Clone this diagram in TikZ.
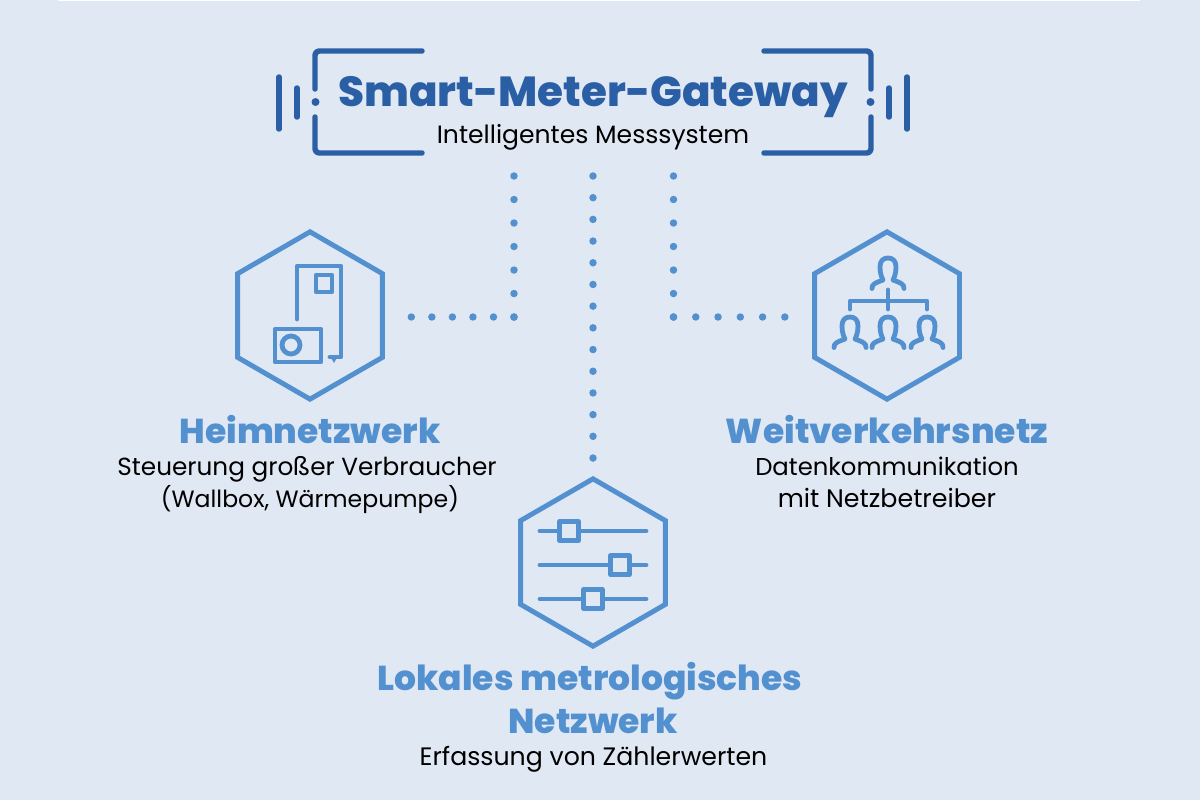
\documentclass[tikz,border=0pt]{standalone}
\usepackage{fontspec}
\setmainfont{Poppins}
\newfontfamily\heavyfont{Poppins ExtraBold}
\usetikzlibrary{shapes.geometric}
\definecolor{bgc}{HTML}{E0E8F3}
\definecolor{darkb}{HTML}{2B5FA5}
\definecolor{lightb}{HTML}{5390D0}
\tikzset{
  x=0.75pt,y=-0.75pt,
  frameline/.style={draw=darkb,line width=4.1pt,line cap=round,line join=round,rounded corners=3pt},
  iconline/.style={draw=lightb,line width=3.6pt,line cap=round,line join=round},
  hexnode/.style={draw=lightb,line width=3.7pt,regular polygon,regular polygon sides=6,shape border rotate=30,minimum size=125.5pt,inner sep=0pt,line join=miter},
  dotted line/.style={draw=lightb,line width=5.6pt,line cap=round},
  titletext/.style={text=darkb,anchor=base,inner sep=0pt,font=\fontsize{31.5}{36}\heavyfont},
  headtext/.style={text=lightb,anchor=base,inner sep=0pt,font=\fontsize{25.9}{28}\heavyfont},
  bodytext/.style={text=black,anchor=base,inner sep=0pt,font=\fontsize{#1}{21}\selectfont},
  bodytext/.default=18.8,
  person/.pic={\draw[iconline] (-16,20.5) .. controls (-16,16) and (-13,15) .. (-5,12) .. controls (-6,10) and (-8,6) .. (-8,-1) .. controls (-8,-7) and (-5,-10) .. (0,-10) .. controls (5,-10) and (8,-7) .. (8,-1) .. controls (8,6) and (6,10) .. (5,12) .. controls (13,15) and (16,16) .. (16,20.5);}
}
\begin{document}
\begin{tikzpicture}
\useasboundingbox (0,0) rectangle (1200,800);
\fill[bgc] (0,0) rectangle (1200,800);
\fill[white] (58,0) rectangle (1140,1);
% nodes
\node[titletext] (title) at (593,106) {Smart-Meter-Gateway};
\node[bodytext] (sub) at (593,143) {Intelligentes Messsystem};
\node[hexnode] (hexl) at (310,315.5) {};
\node[hexnode] (hexr) at (887,315.5) {};
\node[hexnode] (hexm) at (593,562.5) {};
\node[headtext] (hl) at (310,443) {Heimnetzwerk};
\node[bodytext=18.55] (hl1) at (307,475) {Steuerung großer Verbraucher};
\node[bodytext=17.7] (hl2) at (310,507) {(Wallbox, Wärmepumpe)};
\node[headtext] (hr) at (887,443) {Weitverkehrsnetz};
\node[bodytext=18.25] (hr1) at (887,475) {Datenkommunikation};
\node[bodytext=19] (hr2) at (887,507) {mit Netzbetreiber};
\node[headtext] (hm1) at (590,690) {Lokales metrologisches};
\node[headtext] (hm2) at (593,733) {Netzwerk};
\node[bodytext=18.9] (hm3) at (593.5,765) {Erfassung von Zählerwerten};
% frame
\draw[frameline] (422,51) -- (315,51) -- (315,89);
\draw[frameline] (315,117) -- (315,153) -- (422,153);
\draw[frameline] (764,51) -- (871,51) -- (871,89);
\draw[frameline] (871,117) -- (871,153) -- (764,153);
\fill[darkb] (315.5,102) circle (3pt) (870.5,102) circle (3pt);
\draw[frameline] (279,77) -- (279,129) (297,88) -- (297,117);
\draw[frameline] (907,77) -- (907,129) (889,88) -- (889,117);
% connectors
\coordinate (gl) at (514,176);
\coordinate (gm) at (593,176);
\coordinate (gr) at (673.5,176);
\coordinate (cl) at (514,318);
\coordinate (cr) at (673.5,318);
\coordinate (cl2) at (514,317);
\coordinate (cr2) at (673.5,317);
\coordinate (el) at (410,317);
\coordinate (er) at (787,317);
\coordinate (em) at (593,460);
\draw[dotted line,dash pattern=on 0pt off 17.63pt] (gl) -- (cl);
\draw[dotted line,dash pattern=on 0pt off 15.4pt] (cl2) -- (el);
\draw[dotted line,dash pattern=on 0pt off 17.63pt] (gr) -- (cr);
\draw[dotted line,dash pattern=on 0pt off 16.7pt] (cr2) -- (er);
\draw[dotted line,dash pattern=on 0pt off 16.27pt] (gm) -- (em);
% heim icon
\draw[iconline] (297,319) -- (297,266) -- (341,266) -- (341,357) -- (330,357);
\fill[lightb] (330,356) -- (338,356) -- (334,363) -- cycle;
\draw[iconline] (316,275) rectangle (332,292);
\draw[iconline] (275,329) rectangle (321,362);
\draw[iconline] (291,345) circle (9);
% net icon
\path (888,268) pic {person};
\path (850,327) pic {person};
\path (888,327) pic {person};
\path (927,327) pic {person};
\draw[iconline] (888,290) -- (888,309);
\draw[iconline] (850,309) -- (850,301) -- (927,301) -- (927,309);
% slider icon
\draw[iconline] (540,531) -- (646,531) (540,565) -- (646,565) (540,599) -- (646,599);
\draw[iconline,fill=bgc] (559.5,521.5) rectangle (578.5,540.5);
\draw[iconline,fill=bgc] (610.5,555.5) rectangle (629.5,574.5);
\draw[iconline,fill=bgc] (583.5,589.5) rectangle (602.5,608.5);
\end{tikzpicture}
\end{document}
